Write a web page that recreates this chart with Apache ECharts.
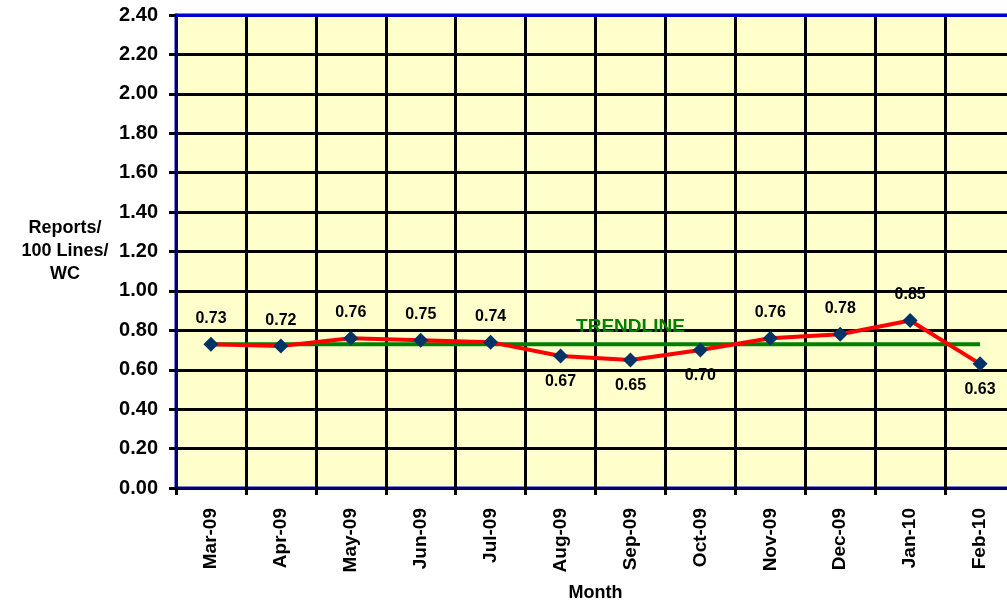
<!DOCTYPE html>
<html><head><meta charset="utf-8">
<script src="https://cdn.jsdelivr.net/npm/echarts@6/dist/echarts.min.js"></script>
<style>html,body{margin:0;padding:0;background:#fff}#c{width:1007px;height:600px}</style>
</head><body><div id="c"></div>
<script>
const months = ['Mar-09','Apr-09','May-09','Jun-09','Jul-09','Aug-09','Sep-09','Oct-09','Nov-09','Dec-09','Jan-10','Feb-10'];
const reports = [0.73,0.72,0.76,0.75,0.74,0.67,0.65,0.70,0.76,0.78,0.85,0.63];
const labelBelow = [false,false,false,false,false,true,true,true,false,false,false,true];
const trendValue = 0.73;
const trend = months.map(() => trendValue);
const trendLabelIndex = 6;

const FONT = 'Liberation Sans, Arial, sans-serif';
const chart = echarts.init(document.getElementById('c'));
chart.setOption({
  animation: false,
  grid: {left: 176, top: 15, width: 839, height: 473, outerBoundsMode: 'none', containLabel: false,
         show: true, backgroundColor: '#FFFFCC', borderColor: '#0000CC', borderWidth: 3},
  xAxis: [{
    type: 'category', data: months, boundaryGap: true,
    name: 'Month', nameLocation: 'middle', nameGap: 96,
    nameTextStyle: {fontFamily: FONT, fontWeight: 'bold', fontSize: 18, color: '#000'},
    axisLine: {lineStyle: {color: '#000066', width: 3}},
    axisTick: {show: true, alignWithLabel: false, length: 7, lineStyle: {color: '#000', width: 3}},
    axisLabel: {rotate: 90, fontFamily: FONT, fontWeight: 'bold', fontSize: 19, color: '#000', margin: 20},
    splitLine: {show: true, lineStyle: {color: '#000', width: 3}}
  }, {
    type: 'category', data: months, position: 'top', boundaryGap: true,
    axisLine: {show: true, lineStyle: {color: '#0000CC', width: 3}},
    axisTick: {show: false}, axisLabel: {show: false}, splitLine: {show: false}
  }],
  yAxis: {
    type: 'value', min: 0, max: 2.4, interval: 0.2,
    name: 'Reports/\n100 Lines/\nWC', nameLocation: 'middle', nameGap: 111, nameRotate: 0,
    nameTextStyle: {fontFamily: FONT, fontWeight: 'bold', fontSize: 18, color: '#000', align: 'center', lineHeight: 23},
    axisLine: {show: true, lineStyle: {color: '#000066', width: 3}},
    axisTick: {show: true, length: 7, lineStyle: {color: '#000', width: 3}},
    axisLabel: {formatter: v => v.toFixed(2), fontFamily: FONT, fontWeight: 'bold', fontSize: 20, color: '#000', margin: 18},
    splitLine: {show: true, lineStyle: {color: '#000', width: 3}}
  },
  series: [
    {
      type: 'line', data: trend, symbol: 'none', z: 3,
      lineStyle: {color: '#008000', width: 4}
    },
    {
      type: 'line', z: 4,
      data: reports.map((v, i) => ({value: v, label: {position: labelBelow[i] ? 'bottom' : 'top'}})),
      symbol: 'diamond', symbolSize: 15,
      itemStyle: {color: '#003366'},
      lineStyle: {color: '#FF0000', width: 4},
      label: {show: true, distance: 10, formatter: p => p.value.toFixed(2), fontFamily: FONT, fontWeight: 'bold', fontSize: 16, color: '#000'}
    },
    {
      type: 'line', z: 5, symbol: 'circle', symbolSize: 1, showSymbol: true,
      itemStyle: {color: 'rgba(0,0,0,0)'}, lineStyle: {width: 0, opacity: 0},
      data: trend.map((v, i) => ({value: v, label: {show: i === trendLabelIndex}})),
      label: {position: 'top', distance: 7, formatter: 'TRENDLINE', fontFamily: FONT, fontWeight: 'bold', fontSize: 19, color: '#008000'}
    }
  ]
});
</script></body></html>
